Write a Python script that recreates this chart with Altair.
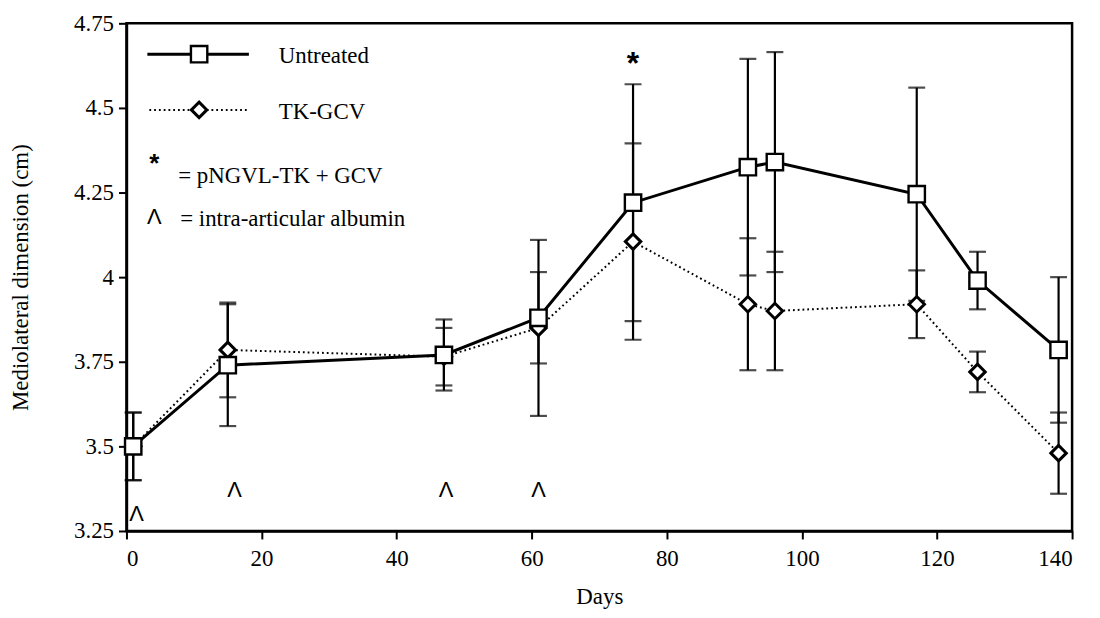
import altair as alt
import pandas as pd

# ---- data ----
days = [1, 15, 47, 61, 75, 92, 96, 117, 126, 138]
untreated = [3.50, 3.74, 3.77, 3.88, 4.22, 4.325, 4.34, 4.245, 3.99, 3.785]
untreated_err = [0.10, 0.18, 0.105, 0.135, 0.35, 0.32, 0.325, 0.315, 0.085, 0.215]
tk_gcv = [3.50, 3.785, 3.765, 3.85, 4.105, 3.92, 3.90, 3.92, 3.72, 3.48]
tk_gcv_err = [0.10, 0.14, 0.085, 0.26, 0.29, 0.195, 0.175, 0.10, 0.06, 0.12]

albumin_days = [1.5, 16, 47.3, 61]
albumin_y = [3.30, 3.37, 3.37, 3.37]

star_days = [75]
star_y = [4.63]

x_ticks = [0, 20, 40, 60, 80, 100, 120, 140]
y_ticks = [3.25, 3.5, 3.75, 4, 4.25, 4.5, 4.75]

series_names = ["Untreated", "TK-GCV"]

# ---- tables ----
df = pd.DataFrame({
    "day": days + days,
    "mean": untreated + tk_gcv,
    "err": untreated_err + tk_gcv_err,
    "series": [series_names[0]] * len(days) + [series_names[1]] * len(days),
})
df["lo"] = df["mean"] - df["err"]
df["hi"] = df["mean"] + df["err"]

alb = pd.DataFrame({"day": albumin_days, "y": albumin_y})
star = pd.DataFrame({"day": star_days, "y": star_y})
one = pd.DataFrame({"a": [0]})

SERIF = "Liberation Serif"
SANS = "Liberation Sans"
TICK_FS = 23
TITLE_FS = 23
LEG_FS = 23
SQ_SIZE = 270
DI_SIZE = 240

xs = alt.Scale(domain=[0, 140], nice=False)
ys = alt.Scale(domain=[3.25, 4.75], nice=False)

X = alt.X("day:Q", scale=xs, axis=alt.Axis(
    values=x_ticks, title="Days", grid=False, labelFont=SERIF, labelFontSize=TICK_FS,
    titleFont=SERIF, titleFontSize=TITLE_FS, titleFontWeight="normal", titleColor="black",
    labelColor="black", domainColor="black", domainWidth=2.5, tickColor="black",
    tickWidth=2, tickSize=8, labelPadding=9, titleY=66, titleBaseline="middle"))
Y_axis = alt.Axis(
    values=y_ticks, format=".3~g", title="Mediolateral dimension (cm)", grid=False,
    labelFont=SERIF, labelFontSize=TICK_FS, titleFont=SERIF, titleFontSize=TITLE_FS,
    titleFontWeight="normal", titleColor="black", labelColor="black",
    domainColor="black", domainWidth=2.5, tickColor="black", tickWidth=2,
    tickSize=8, labelPadding=5, titleX=-106, titleY=255, titleAngle=-90,
    titleBaseline="middle", titleAlign="center")

base = alt.Chart(df)

bars = base.mark_rule(color="black", strokeWidth=2.2).encode(
    x=X, y=alt.Y("lo:Q", scale=ys, axis=Y_axis), y2="hi:Q")
caps_lo = base.mark_tick(orient="horizontal", color="black", size=17, thickness=2.2).encode(
    x="day:Q", y=alt.Y("lo:Q", scale=ys))
caps_hi = base.mark_tick(orient="horizontal", color="black", size=17, thickness=2.2).encode(
    x="day:Q", y=alt.Y("hi:Q", scale=ys))

line_u = base.transform_filter(alt.datum.series == series_names[0]).mark_line(
    color="black", strokeWidth=3).encode(
    x="day:Q", y=alt.Y("mean:Q", scale=ys), order="day:Q")
line_t = base.transform_filter(alt.datum.series == series_names[1]).mark_line(
    color="black", strokeWidth=2, strokeDash=[1.8, 3]).encode(
    x="day:Q", y=alt.Y("mean:Q", scale=ys), order="day:Q")

pts_t = base.transform_filter(alt.datum.series == series_names[1]).mark_point(
    shape="diamond", size=DI_SIZE, filled=True, fill="white", stroke="black",
    strokeWidth=3, opacity=1).encode(x="day:Q", y=alt.Y("mean:Q", scale=ys))
pts_u = base.transform_filter(alt.datum.series == series_names[0]).mark_point(
    shape="square", size=SQ_SIZE, filled=True, fill="white", stroke="black",
    strokeWidth=2.4, opacity=1).encode(x="day:Q", y=alt.Y("mean:Q", scale=ys))

carets = alt.Chart(alb).mark_text(text="Λ", font=SANS, fontSize=22, color="black",
                                  baseline="middle").encode(
    x="day:Q", y=alt.Y("y:Q", scale=ys))
stars = alt.Chart(star).mark_text(text="*", font=SANS, fontSize=32, fontWeight="bold",
                                  color="black", baseline="middle").encode(
    x="day:Q", y=alt.Y("y:Q", scale=ys))

# ---- hand-drawn legend inside the plot ----
oc = alt.Chart(one)
leg = [
    oc.mark_rule(color="black", strokeWidth=3).encode(
        x=alt.value(21), x2=alt.value(123), y=alt.value(31)),
    oc.mark_point(shape="square", size=SQ_SIZE, filled=True, fill="white", stroke="black",
                  strokeWidth=2.4, opacity=1).encode(x=alt.value(73), y=alt.value(31)),
    oc.mark_text(text=series_names[0], font=SERIF, fontSize=LEG_FS, align="left",
                 baseline="middle", color="black").encode(x=alt.value(153), y=alt.value(33)),
    oc.mark_rule(color="black", strokeWidth=2, strokeDash=[1.8, 3]).encode(
        x=alt.value(23), x2=alt.value(121), y=alt.value(87)),
    oc.mark_point(shape="diamond", size=DI_SIZE, filled=True, fill="white", stroke="black",
                  strokeWidth=3, opacity=1).encode(x=alt.value(73), y=alt.value(87)),
    oc.mark_text(text=series_names[1], font=SERIF, fontSize=LEG_FS, align="left",
                 baseline="middle", color="black").encode(x=alt.value(153), y=alt.value(89)),
    oc.mark_text(text="*", font=SANS, fontSize=26, fontWeight="bold", align="center",
                 baseline="middle", color="black").encode(x=alt.value(28), y=alt.value(141)),
    oc.mark_text(text="= pNGVL-TK + GCV", font=SERIF, fontSize=LEG_FS, align="left",
                 baseline="middle", color="black").encode(x=alt.value(52), y=alt.value(153)),
    oc.mark_text(text="Λ", font=SANS, fontSize=22, align="center",
                 baseline="middle", color="black").encode(x=alt.value(28), y=alt.value(195)),
    oc.mark_text(text="= intra-articular albumin", font=SERIF, fontSize=LEG_FS, align="left",
                 baseline="middle", color="black").encode(x=alt.value(54), y=alt.value(197)),
]

chart = alt.layer(bars, caps_lo, caps_hi, line_t, line_u, pts_t, pts_u, carets, stars, *leg).properties(
    width=950, height=510,
    autosize=alt.AutoSizeParams(type="none"),
    padding={"left": 119, "top": 14, "right": 20, "bottom": 80},
    background="white",
).configure_view(stroke="black", strokeWidth=2.5)

chart.save("out.html", embed_options={"renderer": "svg", "actions": False})
